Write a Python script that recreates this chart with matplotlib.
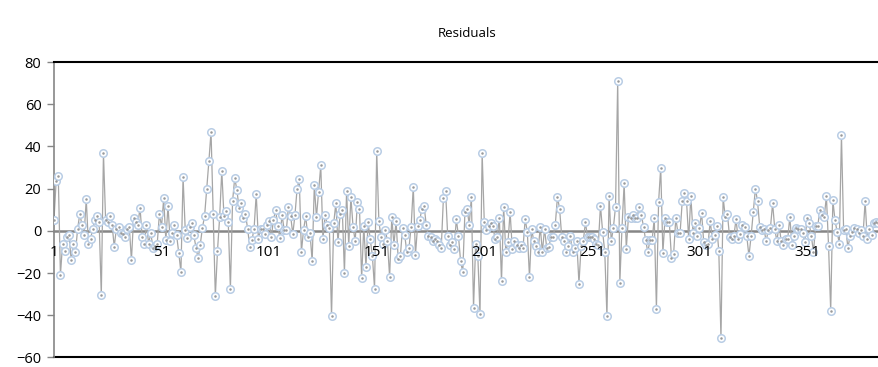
import matplotlib.pyplot as plt
import numpy as np

plt.rcParams['font.family'] = ['Open Sans', 'DejaVu Sans']

residuals = [
    5, 23.5, 26, -21, -6, -9.5, -3, -2, -14, -6, -10, 1, 8, 3, -2, 15, -6, -4, 1, 5,
    7, 4, -30.5, 37, 5, 4, 7, 3, -7.5, 1, 2, -1, -1.5, -3, 1, 2, -14, 6, 4, 3,
    11, -3, -6, 3, -6, -1, -8, -7, -6, 8, 2, 15.5, -4.5, 12, -5, -1, 3, -2, -10.5, -19.5,
    25.5, 0.5, -3.5, 2, 3.5, -2, -8, -13, -6.5, 1.5, 7, 20, 33, 47, 8, -31, -9.5, 6.5, 28.5,
    7, 9.5, 4, -27.5, 14, 25, 19.5, 11, 13, 6, 8, 1, -7.5, -4.5, 1, 17.5, -4, 1, 1, -1.5,
    3, 4.5, -3, 5, 10, 2.5, -3.5, 7.5, 0.5, 0.5, 11.5, 7, -1.5, 7.5, 20, 24.5, -10, 0.5, 7,
    -3, -1, -14.5, 21.5, 6.5, 18.5, 31, -4, 7.5, 3, 1.5, -40.5, 3.5, 13, -5.5, 8, 10, -20, 19, -7,
    16, 2, -5, 13.5, 10.5, -22.5, 2.5, -17, 4, -4, -12, -27.5, 38, 4.5, -3, -6, 0.5, -5, -22, 6.5,
    -6.5, 4.5, -13.5, -12, 1.5, -2, -10, -8, 2, 21, -11.5, 2.5, 5, 10.5, 12, 3, -2.5, -3, -5, -4,
    -5, -6.5, -8, 15.5, 19, -2.5, -6.5, -5.5, -8.5, 5.5, -2.5, -14.5, -19.5, 9, 10.5, 3, 16, -36.5, -6, -12,
    -39.5, 37,
    4, 0.5, 2.5, 3.5, 2.5, -4, -3, 6, -24, 11.5, -10, -5.5, 9, -8.5, -5, -6.5, -8, -6.5, -8, 5.5,
    -0.5, -22, 1, -5, -7, -10, 2, -10, 1, -8, -7.5, -3, -3, 3, 16, 10.5, -3, -5, -10,
    -7, -2.5, -10, -8, -5, -25, -7, -5, 4, -3, -3, -3, -4, -6, -6.5, 12, -0.5, -10, -40.5, 16.5,
    -5, 1.5, 11.5, 71, -24.5, 1.5, 22.5, -8.5, 6.5, 6, 7.5, 6, 6, 11.5, 7.5, 2, -4.5, -10,
    -4.5, -4.5, 6, -37, 13.5, 30, -10.5, 6, 4, 4, -13, -11, 6, -1, -1, 14, 18, 14, -4, 16.5,
    -1, 3.5, -2.5, 1.5, 8.5, -5.5, -6.5, -6, 4.5, -4, -2, 2.5, -9.5, -51, 16, 6.5, 8, -3, -4,
    -2.5, 5.5, -4, -1.5, 3, 2, -2.5, -12, -2.5, 9, 20, 14, 2, 0.5, 1, -5, 0.5, 1.5, 13, 1,
    -5, 3, -5, -6.5, -4, -4, 6.5, -6.5, -2.5, 1.5, 1, 1, -1, -5.5, 6, 3.5, -2.5, -10, 2.5, 2.5,
    10, 7.5, 6.5, 16.5, -7, -38, 14.5, 5, -0.5, -6, 45.5, 0.5, 1, -8, -2.5, -0.5, 1.5, 1, -1, 0.5,
    -2.5, 14, -4, 1, -2, 3.5, 4, 3.5,
]
obs = np.arange(1, len(residuals) + 1)
xtick_pos = [1, 51, 101, 151, 201, 251, 301, 351]
ytick_pos = [-60, -40, -20, 0, 20, 40, 60, 80]

fig = plt.figure(figsize=(8.79, 3.67), dpi=100)
ax = fig.add_axes([0.0614, 0.026, 0.9375, 0.805])

ax.plot(obs, residuals, color='#a6a6a6', lw=0.9, zorder=2)
ax.plot(obs, residuals, ls='none', marker='o', ms=5.4, mfc='white',
        mec='#b9cde5', mew=1.1, zorder=3)
ax.plot(obs, residuals, ls='none', marker='.', ms=1.6, color='#9a9a9a', zorder=4)

ax.set_xlim(1, len(residuals))
ax.set_ylim(-60, 80)
ax.set_yticks(ytick_pos)
ax.set_xticks(xtick_pos)
ax.set_xticklabels([str(v) for v in xtick_pos])

# category axis sits on y = 0, its labels drawn over the series
ax.spines['bottom'].set_position(('data', 0))
ax.spines['bottom'].set_color('#868686')
ax.spines['bottom'].set_linewidth(1.8)
ax.spines['bottom'].set_zorder(1)
ax.xaxis.set_zorder(5)
ax.spines['left'].set_color('#868686')
ax.spines['left'].set_linewidth(1.2)
ax.spines['top'].set_color('black')
ax.spines['top'].set_linewidth(1.5)
ax.spines['right'].set_visible(False)
ax.plot([0, 1], [0, 0], transform=ax.transAxes, color='black', lw=1.5, clip_on=False)

ax.tick_params(axis='x', length=0, pad=10, labelsize=11)
ax.tick_params(axis='y', length=5, color='#868686', width=1, labelsize=10.5, pad=4)

fig.text(0.531, 0.91, 'Residuals', ha='center', va='center', fontsize=9.5)

fig.savefig('out.png', dpi=100)
